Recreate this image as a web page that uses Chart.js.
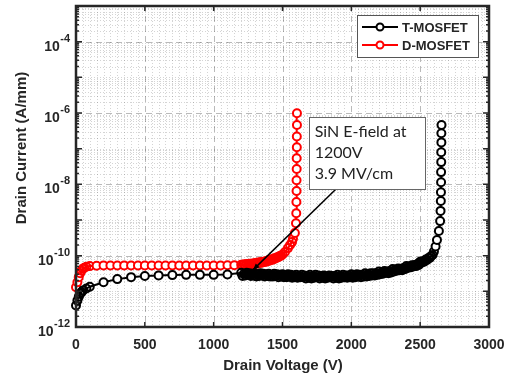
<!DOCTYPE html>
<html>
<head>
<meta charset="utf-8">
<script src="https://cdn.jsdelivr.net/npm/chart.js@4/dist/chart.umd.min.js"></script>
<style>
  html, body { margin: 0; padding: 0; background: #fff; }
  #ivChart { display: block; }
</style>
</head>
<body>
<canvas id="ivChart" width="510" height="376"></canvas>
<script>
// Off-state I-V data (V in volts, I in A/mm)
const voltT = [0, 10, 20, 30, 40, 50, 75, 100, 200, 300, 400, 500, 600, 700, 800, 900, 1000, 1100,
  1200, 1210, 1220, 1230, 1240, 1250, 1260, 1270, 1280, 1290,
  1300, 1310, 1320, 1330, 1340, 1350, 1360, 1370, 1380, 1390,
  1400, 1410, 1420, 1430, 1440, 1450, 1460, 1470, 1480, 1490,
  1500, 1510, 1520, 1530, 1540, 1550, 1560, 1570, 1580, 1590,
  1600, 1610, 1620, 1630, 1640, 1650, 1660, 1670, 1680, 1690,
  1700, 1710, 1720, 1730, 1740, 1750, 1760, 1770, 1780, 1790,
  1800, 1810, 1820, 1830, 1840, 1850, 1860, 1870, 1880, 1890,
  1900, 1910, 1920, 1930, 1940, 1950, 1960, 1970, 1980, 1990,
  2000, 2010, 2020, 2030, 2040, 2050, 2060, 2070, 2080, 2090,
  2100, 2110, 2120, 2130, 2140, 2150, 2160, 2170, 2180, 2190,
  2200, 2210, 2220, 2230, 2240, 2250, 2260, 2270, 2280, 2290,
  2300, 2310, 2320, 2330, 2340, 2350, 2360, 2370, 2380, 2390,
  2400, 2410, 2420, 2430, 2440, 2450, 2460, 2470, 2480, 2490,
  2500, 2510, 2520, 2530, 2540, 2550, 2560, 2570, 2580, 2590,
  2600, 2612, 2622, 2636, 2645, 2648, 2650, 2651, 2652, 2652, 2653, 2653, 2654, 2654, 2655];
const currT = [4.0e-12, 5.5e-12, 7.0e-12, 8.5e-12, 9.5e-12, 1.05e-11, 1.2e-11, 1.35e-11, 1.8e-11,
  2.2e-11, 2.5e-11, 2.7e-11, 2.8e-11, 2.85e-11, 2.9e-11, 2.9e-11, 2.9e-11, 2.95e-11,
  3.3e-11, 2.7e-11, 3.1e-11, 2.8e-11, 3.3e-11, 2.9e-11, 3.2e-11, 2.7e-11, 3.1e-11, 2.8e-11,
  3.2e-11, 2.6e-11, 3.0e-11, 2.7e-11, 3.2e-11, 2.8e-11, 3.1e-11, 2.6e-11, 3.0e-11, 2.7e-11,
  3.1e-11, 2.6e-11, 2.9e-11, 2.6e-11, 3.1e-11, 2.7e-11, 3.0e-11, 2.5e-11, 2.9e-11, 2.6e-11,
  3.0e-11, 2.5e-11, 2.8e-11, 2.5e-11, 3.0e-11, 2.6e-11, 2.9e-11, 2.4e-11, 2.8e-11, 2.5e-11,
  2.9e-11, 2.4e-11, 2.7e-11, 2.5e-11, 2.9e-11, 2.5e-11, 2.8e-11, 2.3e-11, 2.7e-11, 2.4e-11,
  2.9e-11, 2.3e-11, 2.7e-11, 2.4e-11, 2.9e-11, 2.5e-11, 2.8e-11, 2.3e-11, 2.7e-11, 2.4e-11,
  2.8e-11, 2.3e-11, 2.6e-11, 2.4e-11, 2.8e-11, 2.5e-11, 2.7e-11, 2.3e-11, 2.7e-11, 2.4e-11,
  2.9e-11, 2.3e-11, 2.7e-11, 2.4e-11, 2.9e-11, 2.5e-11, 2.8e-11, 2.4e-11, 2.8e-11, 2.5e-11,
  3.0e-11, 2.4e-11, 2.8e-11, 2.5e-11, 3.0e-11, 2.6e-11, 2.9e-11, 2.5e-11, 2.9e-11, 2.6e-11,
  3.2e-11, 2.6e-11, 3.0e-11, 2.7e-11, 3.2e-11, 2.8e-11, 3.2e-11, 2.8e-11, 3.2e-11, 2.9e-11,
  3.6e-11, 3.0e-11, 3.4e-11, 3.1e-11, 3.7e-11, 3.3e-11, 3.6e-11, 3.2e-11, 3.7e-11, 3.4e-11,
  4.2e-11, 3.6e-11, 4.0e-11, 3.8e-11, 4.4e-11, 3.9e-11, 4.3e-11, 3.9e-11, 4.5e-11, 4.2e-11,
  5.1e-11, 4.5e-11, 5.0e-11, 4.7e-11, 5.4e-11, 5.0e-11, 5.5e-11, 5.1e-11, 5.8e-11, 5.5e-11,
  6.8e-11, 6.3e-11, 7.0e-11, 6.8e-11, 7.8e-11, 7.6e-11, 8.6e-11, 8.6e-11, 9.8e-11, 1.05e-10,
  1.3e-10, 1.8e-10, 2.75e-10, 4.9e-10, 9.3e-10, 1.8e-9, 3.4e-9, 6.0e-9, 1.15e-8, 2.2e-8, 4.2e-8,
  7.9e-8, 1.5e-7, 2.7e-7, 4.6e-7];

const voltD = [0, 10, 20, 30, 40, 50, 60, 75, 100, 150, 200, 250, 300, 350, 400, 450, 500, 550, 600,
  650, 700, 750, 800, 850, 900, 950, 1000, 1050, 1100, 1150,
  1200, 1210, 1220, 1230, 1240, 1250, 1260, 1270, 1280, 1290,
  1300, 1310, 1320, 1330, 1340, 1350, 1360, 1370, 1380, 1390,
  1400, 1410, 1420, 1430, 1440, 1450, 1460, 1470, 1480, 1490,
  1500, 1518, 1540, 1555, 1569, 1576, 1590,
  1598, 1600, 1601, 1602, 1602, 1603, 1603, 1604, 1604, 1605, 1605];
const currD = [1.3e-11, 1.8e-11, 2.5e-11, 3.2e-11, 3.8e-11, 4.3e-11, 4.6e-11, 4.9e-11, 5.1e-11,
  5.2e-11, 5.3e-11, 5.3e-11, 5.3e-11, 5.3e-11, 5.3e-11, 5.3e-11, 5.3e-11, 5.3e-11, 5.3e-11, 5.3e-11,
  5.3e-11, 5.3e-11, 5.3e-11, 5.3e-11, 5.3e-11, 5.3e-11, 5.3e-11, 5.3e-11, 5.4e-11, 5.4e-11,
  5.6e-11, 5.3e-11, 5.7e-11, 5.4e-11, 5.8e-11, 5.5e-11, 5.9e-11, 5.6e-11, 6.0e-11, 5.7e-11,
  6.2e-11, 5.9e-11, 6.4e-11, 6.1e-11, 6.6e-11, 6.3e-11, 6.8e-11, 6.6e-11, 7.1e-11, 6.9e-11,
  7.5e-11, 7.3e-11, 7.9e-11, 7.7e-11, 8.4e-11, 8.3e-11, 9.0e-11, 9.0e-11, 9.8e-11, 9.9e-11,
  1.08e-10, 1.26e-10, 1.63e-10, 2.0e-10, 2.4e-10, 3.0e-10, 4.3e-10,
  8.1e-10, 1.55e-9, 3.2e-9, 6.5e-9, 1.3e-8, 2.7e-8, 5.4e-8, 1.1e-7, 2.2e-7, 4.6e-7, 9.8e-7];

const seriesNames = ['T-MOSFET', 'D-MOSFET'];
const seriesColors = ['#000000', '#ff0000'];
const xTicks = [0, 500, 1000, 1500, 2000, 2500, 3000];
const yTickExps = [-12, -10, -8, -6, -4];
const noteLines = ['SiN E-field at', '1200V', '3.9 MV/cm'];

const toPoints = (xs, ys) => xs.map((v, i) => ({ x: v, y: ys[i] }));

// markers that pile up on their neighbours stay hollow so the band reads solid
function markerFace(c) {
  const d = c.dataset.data, i = c.dataIndex, { x, y } = c.chart.scales;
  const px = j => x.getPixelForValue(d[j].x), py = j => y.getPixelForValue(d[j].y);
  const near = j => j >= 0 && j < d.length && Math.hypot(px(j) - px(i), py(j) - py(i)) < 4;
  return near(i - 1) || near(i + 1) ? 'rgba(255,255,255,0)' : '#fff';
}

// grid, frame, ticks, labels, legend and annotation
const decor = {
  id: 'decor',
  beforeDatasetsDraw(chart) {
    const { ctx, chartArea: a, scales: { x, y } } = chart;
    ctx.save();
    ctx.lineWidth = 1;
    // minor grid (dotted)
    ctx.strokeStyle = 'rgba(0,0,0,0.17)';
    ctx.setLineDash([1, 2]);
    for (let v = 50; v < 3000; v += 50) {
      if (v % 500 === 0) continue;
      const px = Math.round(x.getPixelForValue(v)) + 0.5;
      ctx.beginPath(); ctx.moveTo(px, a.top); ctx.lineTo(px, a.bottom); ctx.stroke();
    }
    for (let e = -12; e < -3; e++) {
      for (let m = 1; m <= 9; m++) {
        if (m === 1 && e % 2 === 0) continue;
        const py = Math.round(y.getPixelForValue(m * Math.pow(10, e))) + 0.5;
        ctx.beginPath(); ctx.moveTo(a.left, py); ctx.lineTo(a.right, py); ctx.stroke();
      }
    }
    // major grid (dashed)
    ctx.strokeStyle = 'rgba(0,0,0,0.27)';
    ctx.setLineDash([6, 4]);
    xTicks.forEach(v => {
      const px = Math.round(x.getPixelForValue(v)) + 0.5;
      ctx.beginPath(); ctx.moveTo(px, a.top); ctx.lineTo(px, a.bottom); ctx.stroke();
    });
    yTickExps.forEach(e => {
      const py = Math.round(y.getPixelForValue(Math.pow(10, e))) + 0.5;
      ctx.beginPath(); ctx.moveTo(a.left, py); ctx.lineTo(a.right, py); ctx.stroke();
    });
    ctx.restore();
  },
  afterDraw(chart) {
    const { ctx, chartArea: a, scales: { x, y } } = chart;
    ctx.save();
    const dark = '#262626';

    // inside tick marks
    ctx.strokeStyle = dark;
    ctx.lineWidth = 1.5;
    xTicks.forEach(v => {
      const px = x.getPixelForValue(v);
      ctx.beginPath();
      ctx.moveTo(px, a.bottom); ctx.lineTo(px, a.bottom - 5);
      ctx.moveTo(px, a.top); ctx.lineTo(px, a.top + 5);
      ctx.stroke();
    });
    for (let e = -12; e <= -3; e++) {
      for (let m = 1; m <= 9; m++) {
        const v = m * Math.pow(10, e);
        if (v > 1.0001e-3) break;
        const py = y.getPixelForValue(v);
        const len = m === 1 ? 6 : 3;
        ctx.beginPath();
        ctx.moveTo(a.left, py); ctx.lineTo(a.left + len, py);
        ctx.moveTo(a.right, py); ctx.lineTo(a.right - len, py);
        ctx.stroke();
      }
    }

    // frame
    ctx.lineWidth = 2.5;
    ctx.strokeRect(a.left, a.top, a.right - a.left, a.bottom - a.top);

    // tick labels
    ctx.fillStyle = dark;
    ctx.font = 'bold 14px "Liberation Sans", Arial, sans-serif';
    ctx.textAlign = 'center';
    ctx.textBaseline = 'middle';
    xTicks.forEach(v => ctx.fillText(String(v), x.getPixelForValue(v), 345));

    yTickExps.forEach(e => {
      const py = y.getPixelForValue(Math.pow(10, e));
      const exp = String(e);
      ctx.font = 'bold 11px "Liberation Sans", Arial, sans-serif';
      const ew = ctx.measureText(exp).width;
      ctx.textAlign = 'left';
      ctx.fillText(exp, 70 - ew, py - 3);
      ctx.font = 'bold 14px "Liberation Sans", Arial, sans-serif';
      ctx.textAlign = 'right';
      ctx.fillText('10', 70 - ew - 0.5, py + 5);
    });

    // axis titles
    ctx.font = 'bold 15px "Liberation Sans", Arial, sans-serif';
    ctx.textAlign = 'center';
    ctx.fillText('Drain Voltage (V)', 283, 366);
    ctx.save();
    ctx.translate(22, 148);
    ctx.rotate(-Math.PI / 2);
    ctx.fillText('Drain Current (A/mm)', 0, 0);
    ctx.restore();

    // legend
    ctx.fillStyle = '#fff';
    ctx.fillRect(357, 15, 121, 42);
    ctx.strokeStyle = '#555';
    ctx.lineWidth = 1;
    ctx.strokeRect(357.5, 15.5, 121, 42);
    seriesNames.forEach((name, i) => {
      const ly = 27 + i * 18;
      ctx.strokeStyle = seriesColors[i];
      ctx.lineWidth = 2;
      ctx.beginPath(); ctx.moveTo(362, ly); ctx.lineTo(398, ly); ctx.stroke();
      ctx.fillStyle = '#fff';
      ctx.beginPath(); ctx.arc(380, ly, 3.5, 0, Math.PI * 2); ctx.fill(); ctx.stroke();
      ctx.fillStyle = dark;
      ctx.font = 'bold 13px "Liberation Sans", Arial, sans-serif';
      ctx.textAlign = 'left';
      ctx.textBaseline = 'middle';
      ctx.fillText(name, 402, ly + 1);
    });

    // annotation box with leader line
    const bx = x.getPixelForValue(1690), by = y.getPixelForValue(Math.pow(10, -6.12));
    const bx2 = x.getPixelForValue(2535), by2 = y.getPixelForValue(Math.pow(10, -8.13));
    const tipX = x.getPixelForValue(1286), tipY = y.getPixelForValue(4e-11);
    const tailX = x.getPixelForValue(1889);
    ctx.strokeStyle = '#000';
    ctx.lineWidth = 1.5;
    ctx.beginPath(); ctx.moveTo(tailX, by2); ctx.lineTo(tipX, tipY); ctx.stroke();
    const ang = Math.atan2(tipY - by2, tipX - tailX);
    ctx.fillStyle = '#000';
    ctx.beginPath();
    ctx.moveTo(tipX, tipY);
    ctx.lineTo(tipX - 7 * Math.cos(ang - 0.4), tipY - 7 * Math.sin(ang - 0.4));
    ctx.lineTo(tipX - 7 * Math.cos(ang + 0.4), tipY - 7 * Math.sin(ang + 0.4));
    ctx.closePath(); ctx.fill();
    ctx.fillStyle = '#fff';
    ctx.fillRect(bx, by, bx2 - bx, by2 - by);
    ctx.strokeStyle = '#666';
    ctx.lineWidth = 1;
    ctx.strokeRect(Math.round(bx) + 0.5, Math.round(by) + 0.5, Math.round(bx2 - bx), Math.round(by2 - by));
    ctx.fillStyle = '#222';
    ctx.font = '16px Lato, "Open Sans", sans-serif';
    ctx.textAlign = 'left';
    ctx.textBaseline = 'middle';
    noteLines.forEach((t, i) => ctx.fillText(t, bx + 6, by + 15 + i * 21));

    ctx.restore();
  }
};

new Chart(document.getElementById('ivChart').getContext('2d'), {
  type: 'scatter',
  data: {
    datasets: [
      { label: seriesNames[0], data: toPoints(voltT, currT) },
      { label: seriesNames[1], data: toPoints(voltD, currD) }
    ].map((d, i) => Object.assign(d, {
      showLine: true,
      borderColor: seriesColors[i],
      borderWidth: 2,
      pointRadius: 4,
      pointBorderWidth: 2,
      pointBorderColor: seriesColors[i],
      pointBackgroundColor: markerFace,
      clip: false
    }))
  },
  options: {
    responsive: false,
    animation: false,
    devicePixelRatio: 1,
    layout: { padding: { left: 76, top: 5, right: 21, bottom: 49 } },
    scales: {
      x: { type: 'linear', min: 0, max: 3000, display: false },
      y: { type: 'logarithmic', min: 1e-12, max: 1e-3, display: false }
    },
    plugins: { legend: { display: false }, tooltip: { enabled: false } }
  },
  plugins: [decor]
});
</script>
</body>
</html>
